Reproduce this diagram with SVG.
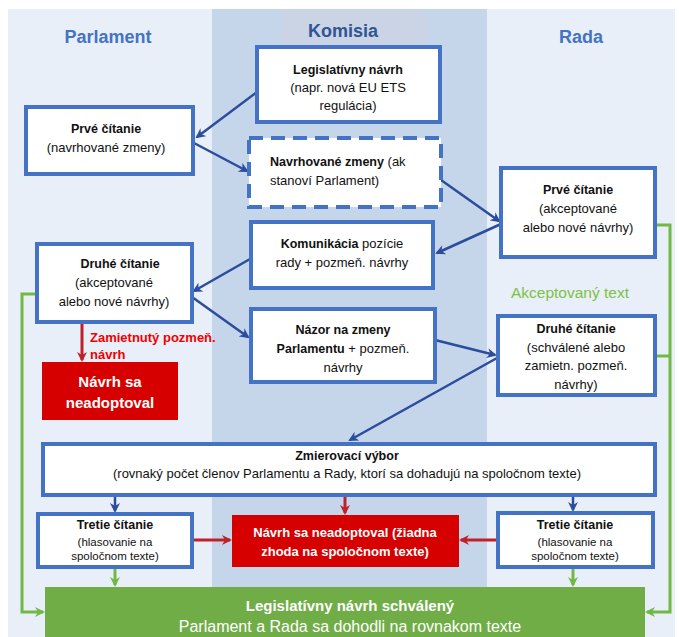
<svg xmlns="http://www.w3.org/2000/svg" width="679" height="637" viewBox="0 0 679 637">
<style>
text{font-family:"Liberation Sans",Arial,sans-serif;fill:#111;}
.h{font-size:18px;font-weight:bold;fill:#4472c4;text-anchor:middle;}
.t{font-size:13px;text-anchor:middle;}
.b{font-weight:bold;font-size:12.5px;}
.s{font-size:11.5px;}
.box{fill:#fff;stroke:#4472c4;stroke-width:4;}
.dash{fill:#fff;stroke:#4472c4;stroke-width:4;stroke-dasharray:14,8;}
.red{fill:#d60000;}
.wt{fill:#fff;font-weight:bold;text-anchor:middle;}
.c{stroke:#2c4c9c;stroke-width:2.5;fill:none;marker-end:url(#ab);}
.cr{stroke:#c0202a;stroke-width:3;fill:none;marker-end:url(#ar);}
.cg{stroke:#72b846;stroke-width:3;fill:none;marker-end:url(#ag);}
</style>
<defs>
<marker id="ab" markerWidth="10" markerHeight="10" refX="8" refY="5" orient="auto" markerUnits="userSpaceOnUse"><path d="M0,0 L10,5 L0,10 L3,5 Z" fill="#2c4c9c"/></marker>
<marker id="ar" markerWidth="10" markerHeight="10" refX="8" refY="5" orient="auto" markerUnits="userSpaceOnUse"><path d="M0,0 L10,5 L0,10 L3,5 Z" fill="#c0202a"/></marker>
<marker id="ag" markerWidth="10" markerHeight="10" refX="8" refY="5" orient="auto" markerUnits="userSpaceOnUse"><path d="M0,0 L10,5 L0,10 L3,5 Z" fill="#72b846"/></marker>
</defs>
<rect width="679" height="637" fill="#fff"/>
<g id="background">
<rect x="8" y="9" width="667" height="628" fill="#e9eff8"/>
<rect x="212" y="9" width="275" height="578" fill="#c5d6eb"/>
<rect x="282" y="12" width="145" height="34" fill="#cad4e4"/>
<text class="h" x="108" y="43">Parlament</text>
<text class="h" x="343" y="37" style="fill:#2f5597">Komisia</text>
<text class="h" x="581" y="43">Rada</text>
</g>
<g id="connectors">
<line class="c" x1="257" y1="92" x2="197" y2="137"/>
<line class="c" x1="194" y1="143" x2="247" y2="171"/>
<line class="c" x1="441" y1="180" x2="499" y2="221"/>
<line class="c" x1="501" y1="224" x2="437" y2="253"/>
<line class="c" x1="250" y1="259" x2="194" y2="291"/>
<line class="c" x1="192" y1="297" x2="248" y2="337"/>
<line class="c" x1="435" y1="340" x2="495" y2="355"/>
<line class="c" x1="497" y1="358" x2="350" y2="440"/>
<line class="c" x1="115" y1="495" x2="115" y2="511"/>
<line class="c" x1="573" y1="495" x2="573" y2="510"/>
<line class="cr" x1="82" y1="322" x2="82" y2="360"/>
<line class="cr" x1="345" y1="495" x2="345" y2="513"/>
<line class="cr" x1="192" y1="540" x2="230" y2="540"/>
<line class="cr" x1="497" y1="540" x2="461" y2="540"/>
<line class="cg" x1="115" y1="567" x2="115" y2="585"/>
<line class="cg" x1="573" y1="567" x2="573" y2="585"/>
<polyline class="cg" points="36,294 22,294 22,612 43,612"/>
<polyline class="cg" points="655,225 670,225 670,612 647,612"/>
<line x1="655" y1="356" x2="670" y2="356" stroke="#72b846" stroke-width="3"/>
</g>
<g id="legislativny">
<rect class="box" x="257" y="47" width="183" height="75"/>
<text class="t" x="348" y="74"><tspan class="b">Legislatívny návrh</tspan><tspan x="348" dy="18">(napr. nová EU ETS</tspan><tspan x="348" dy="18">regulácia)</tspan></text>
</g>
<g id="prve-parlament">
<rect class="box" x="26" y="107" width="167" height="67"/>
<text class="t" x="106" y="133"><tspan class="b">Prvé čítanie</tspan><tspan x="106" dy="19">(navrhované zmeny)</tspan></text>
</g>
<g id="navrhovane">
<rect class="dash" x="249" y="138" width="192" height="69"/>
<text class="t" x="270" y="166" style="text-anchor:start"><tspan class="b">Navrhované zmeny</tspan> (ak<tspan x="270" dy="19">stanoví Parlament)</tspan></text>
</g>
<g id="prve-rada">
<rect class="box" x="501" y="168" width="154" height="89"/>
<text class="t" x="578" y="194"><tspan class="b">Prvé čítanie</tspan><tspan x="578" dy="19">(akceptované</tspan><tspan x="578" dy="19">alebo nové návrhy)</tspan></text>
</g>
<g id="komunikacia">
<rect class="box" x="251" y="222" width="182" height="66"/>
<text class="t" x="342" y="248"><tspan class="b">Komunikácia</tspan> pozície<tspan x="342" dy="19">rady + pozmeň. návrhy</tspan></text>
</g>
<g id="druhe-parlament">
<rect class="box" x="37" y="244" width="155" height="78"/>
<text class="t" x="120" y="268"><tspan class="b">Druhé čítanie</tspan><tspan x="114" dy="19">(akceptované</tspan><tspan x="114" dy="19">alebo nové návrhy)</tspan></text>
</g>
<g id="zamietnuty-label">
<text x="90" y="342" style="font-size:13px;font-weight:bold;fill:#f00000">Zamietnutý pozmeň.<tspan x="90" dy="17">návrh</tspan></text>
</g>
<g id="neadoptoval-1">
<rect class="red" x="42" y="362" width="136" height="58"/>
<text class="wt" x="110" y="387" style="font-size:15px">Návrh sa<tspan x="110" dy="21">neadoptoval</tspan></text>
</g>
<g id="nazor">
<rect class="box" x="251" y="309" width="184" height="73"/>
<text class="t" x="343" y="334"><tspan class="b">Názor na zmeny</tspan><tspan x="343" dy="19"><tspan class="b">Parlamentu</tspan> + pozmeň.</tspan><tspan x="343" dy="19">návrhy</tspan></text>
</g>
<g id="akceptovany">
<text x="570" y="298" style="font-size:15.5px;fill:#7cc243;text-anchor:middle">Akceptovaný text</text>
</g>
<g id="druhe-rada">
<rect class="box" x="498" y="316" width="157" height="79"/>
<text class="t" x="576" y="333"><tspan class="b">Druhé čítanie</tspan><tspan x="576" dy="18.5">(schválené alebo</tspan><tspan x="576" dy="18.5">zamietn. pozmeň.</tspan><tspan x="576" dy="18.5">návrhy)</tspan></text>
</g>
<g id="zmierovaci">
<rect class="box" x="43" y="444" width="612" height="51"/>
<text class="t" x="347" y="460"><tspan class="b">Zmierovací výbor</tspan><tspan x="347" dy="18">(rovnaký počet členov Parlamentu a Rady, ktorí sa dohadujú na spoločnom texte)</tspan></text>
</g>
<g id="tretie-parlament">
<rect class="box" x="38" y="514" width="154" height="53"/>
<text class="t" x="115" y="529"><tspan class="b">Tretie čítanie</tspan><tspan x="115" dy="17" class="s">(hlasovanie na</tspan><tspan x="115" dy="14" class="s">spoločnom texte)</tspan></text>
</g>
<g id="neadoptoval-2">
<rect class="red" x="232" y="515" width="227" height="52"/>
<text class="wt" x="345" y="537" style="font-size:13px">Návrh sa neadoptoval (žiadna<tspan x="345" dy="19">zhoda na spoločnom texte)</tspan></text>
</g>
<g id="tretie-rada">
<rect class="box" x="498" y="513" width="155" height="54"/>
<text class="t" x="575" y="529"><tspan class="b">Tretie čítanie</tspan><tspan x="575" dy="17" class="s">(hlasovanie na</tspan><tspan x="575" dy="14" class="s">spoločnom texte)</tspan></text>
</g>
<g id="schvaleny">
<rect x="45" y="587" width="600" height="50" fill="#70ad47"/>
<text class="wt" x="350" y="611" style="font-size:15px">Legislatívny návrh schválený</text>
<text x="350" y="632" style="font-size:16px;fill:#fff;text-anchor:middle">Parlament a Rada sa dohodli na rovnakom texte</text>
</g>
</svg>
